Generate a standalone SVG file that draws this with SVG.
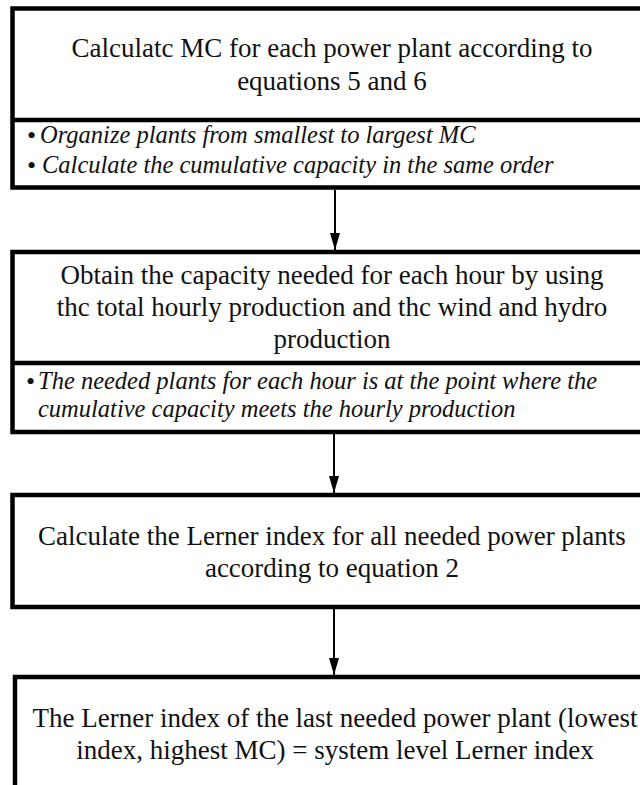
<svg xmlns="http://www.w3.org/2000/svg" width="640" height="785" viewBox="0 0 640 785">
<defs>
<style>
.box{fill:#fff;stroke:#000;stroke-width:4.5}
.div{stroke:#000;stroke-width:4.5}
.h{font-family:"Liberation Serif","Times New Roman",serif;font-size:27px;fill:#111;text-anchor:middle}
.i{font-family:"Liberation Serif","Times New Roman",serif;font-size:24.5px;font-style:italic;fill:#111}
.b{font-family:"Liberation Serif","Times New Roman",serif;font-size:26px;fill:#111}
.c{stroke:#000;stroke-width:2;fill:none}
</style>
<marker id="ah" markerWidth="17" markerHeight="10" refX="17" refY="5" orient="auto" markerUnits="userSpaceOnUse" viewBox="0 0 17 10">
<path d="M0,0 L17,5 L0,10 Z" fill="#000"/>
</marker>
</defs>
<rect width="640" height="785" fill="#fff"/>
<g id="node1">
<rect class="box" x="12.5" y="8.5" width="650" height="179"/>
<line class="div" x1="12" y1="120" x2="660" y2="120"/>
<text class="h" x="332" y="57">Calculatc MC for each power plant according to</text>
<text class="h" x="332" y="90">equations 5 and 6</text>
<text class="b" x="27" y="144">•</text>
<text class="i" x="40" y="143">Organize plants from smallest to largest MC</text>
<text class="b" x="27" y="174">•</text>
<text class="i" x="42" y="173">Calculate the cumulative capacity in the same order</text>
</g>
<g id="node2">
<rect class="box" x="12.5" y="252" width="650" height="180"/>
<line class="div" x1="12" y1="363" x2="660" y2="363"/>
<text class="h" x="332" y="284">Obtain the capacity needed for each hour by using</text>
<text class="h" x="332" y="316">thc total hourly production and thc wind and hydro</text>
<text class="h" x="332" y="348">production</text>
<text class="b" x="26" y="390">•</text>
<text class="i" x="38" y="389">The needed plants for each hour is at the point where the</text>
<text class="i" x="38" y="417">cumulative capacity meets the hourly production</text>
</g>
<g id="node3">
<rect class="box" x="12.5" y="495" width="650" height="112"/>
<text class="h" x="332" y="545">Calculate the Lerner index for all needed power plants</text>
<text class="h" x="332" y="577">according to equation 2</text>
</g>
<g id="node4">
<rect class="box" x="15" y="677" width="650" height="130"/>
<text class="h" x="335" y="727">The Lerner index of the last needed power plant (lowest</text>
<text class="h" x="335" y="759">index, highest MC) = system level Lerner index</text>
</g>
<g id="connectors">
<line class="c" x1="335" y1="190" x2="335" y2="250" marker-end="url(#ah)"/>
<line class="c" x1="334" y1="434" x2="334" y2="493" marker-end="url(#ah)"/>
<line class="c" x1="334" y1="609" x2="334" y2="675" marker-end="url(#ah)"/>
</g>
</svg>
